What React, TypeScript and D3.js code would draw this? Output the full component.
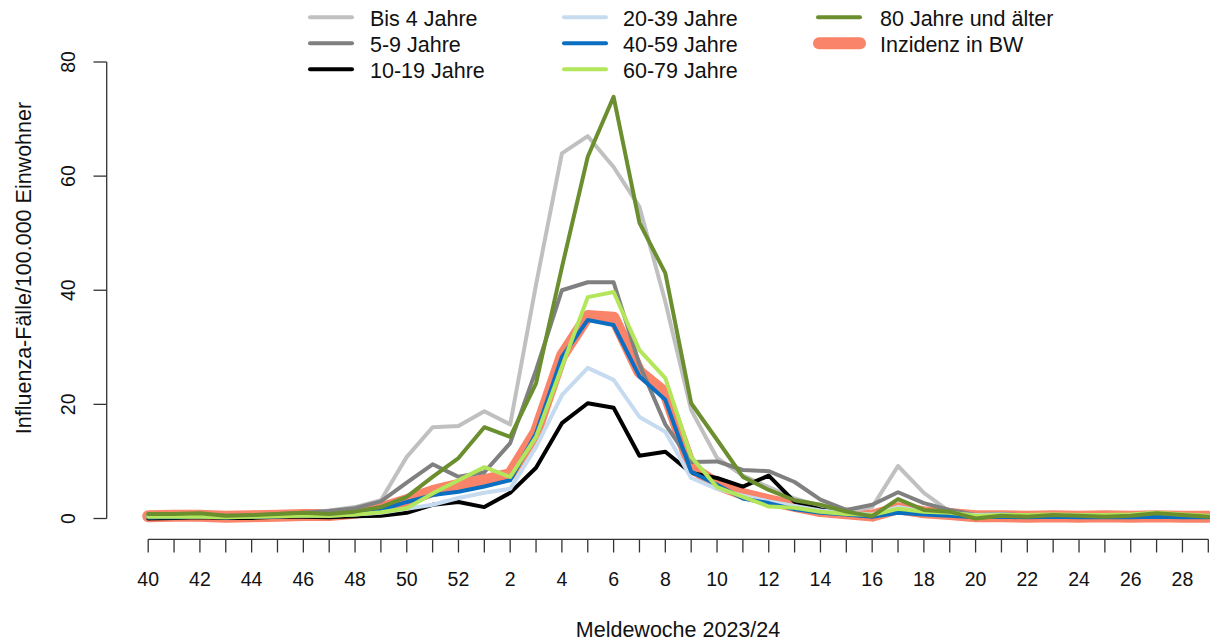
import React from "react";
import * as d3 from "d3";

const weeks: number[] = [40, 41, 42, 43, 44, 45, 46, 47, 48, 49, 50, 51, 52, 1, 2, 3, 4, 5, 6, 7, 8, 9, 10, 11, 12, 13, 14, 15, 16, 17, 18, 19, 20, 21, 22, 23, 24, 25, 26, 27, 28, 29];

const bis4: number[] = [0.5, 0.6, 0.6, 0.4, 0.5, 0.7, 0.9, 1.4, 2.0, 3.2, 10.8, 16.0, 16.2, 18.8, 16.5, 41, 64, 67, 61.6, 54.6, 38, 19, 10.6, 7.5, 5.5, 3.5, 2.2, 1.2, 2.0, 9.2, 4.5, 1.2, 0.5, 0.5, 0.4, 0.5, 0.3, 0.5, 0.4, 0.5, 0.4, 0.3];
const j5bis9: number[] = [0.5, 0.6, 0.6, 0.5, 0.5, 0.8, 1.0, 1.3, 1.8, 3.0, 6.3, 9.5, 7.3, 8.1, 13.2, 26, 40, 41.4, 41.4, 27, 16.5, 9.9, 10.0, 8.5, 8.3, 6.4, 3.3, 1.5, 2.4, 4.6, 2.7, 1.5, 0.6, 0.8, 0.5, 0.6, 0.5, 0.4, 0.6, 0.5, 0.6, 0.4];
const j10bis19: number[] = [0.0, 0.1, 0.2, 0.1, 0.1, 0.3, 0.3, 0.2, 0.4, 0.5, 1.0, 2.4, 2.9, 2.0, 4.5, 8.9, 16.7, 20.2, 19.4, 11.0, 11.7, 8.0, 7.1, 5.6, 7.5, 2.9, 1.6, 0.8, 0.4, 1.5, 1.0, 0.7, 0.3, 0.4, 0.3, 0.5, 0.4, 0.5, 0.3, 0.4, 0.3, 0.3];
const j20bis39: number[] = [0.2, 0.3, 0.3, 0.2, 0.3, 0.4, 0.5, 0.5, 0.7, 1.0, 1.7, 2.4, 3.6, 4.5, 5.2, 12.5, 21.6, 26.4, 24.3, 17.8, 15.2, 7.1, 5.2, 4.0, 3.0, 2.2, 1.4, 1.0, 0.7, 2.0, 1.2, 0.8, 0.6, 0.7, 0.5, 0.6, 0.5, 0.5, 0.6, 0.5, 0.5, 0.4];
const j40bis59: number[] = [0.2, 0.2, 0.3, 0.2, 0.3, 0.4, 0.5, 0.6, 0.9, 1.5, 2.9, 4.1, 4.7, 5.6, 6.7, 14.9, 28.3, 34.8, 33.9, 24.9, 20.8, 8.2, 5.9, 3.5, 2.7, 1.6, 1.0, 0.7, 0.3, 1.0, 0.7, 0.5, 0.2, 0.3, 0.2, 0.3, 0.2, 0.2, 0.2, 0.3, 0.2, 0.2];
const j60bis79: number[] = [0.3, 0.3, 0.3, 0.2, 0.3, 0.4, 0.5, 0.5, 0.7, 1.1, 1.8, 4.4, 6.7, 9.0, 7.3, 14.3, 26.6, 38.8, 39.7, 29.5, 24.6, 10.8, 5.5, 3.8, 2.1, 1.9, 1.2, 0.8, 0.6, 1.7, 1.2, 1.0, 0.5, 0.6, 0.6, 0.7, 0.6, 0.6, 0.7, 1.0, 0.7, 0.5];
const j80plus: number[] = [0.8, 0.8, 0.9, 0.5, 0.6, 0.8, 1.0, 0.8, 1.2, 2.0, 3.8, 7.3, 10.6, 16.0, 14.3, 23.7, 44, 63.4, 73.9, 51.8, 43.0, 20.2, 13.8, 7.3, 5.0, 3.2, 2.4, 1.2, 0.4, 3.4, 1.5, 1.2, 0.0, 0.5, 0.3, 0.6, 0.5, 0.3, 0.5, 0.9, 0.6, 0.3];
const inzidenzBW: number[] = [0.4, 0.5, 0.5, 0.3, 0.4, 0.5, 0.6, 0.6, 1.0, 1.8, 3.2, 4.8, 5.9, 6.7, 7.8, 15.2, 28.5, 35.5, 35.2, 25.7, 22.0, 9.0, 6.0, 4.3, 3.2, 2.2, 1.3, 0.9, 0.5, 1.8, 1.1, 0.8, 0.4, 0.4, 0.3, 0.4, 0.3, 0.4, 0.3, 0.4, 0.3, 0.3];

const seriesNames: string[] = ["Bis 4 Jahre", "5-9 Jahre", "10-19 Jahre", "20-39 Jahre", "40-59 Jahre", "60-79 Jahre", "80 Jahre und älter"];
const seriesColors: string[] = ["#c0c0c0", "#808080", "#000000", "#c6dbef", "#0a6fc2", "#b3e65a", "#6b8e2f"];
const seriesValues: number[][] = [bis4, j5bis9, j10bis19, j20bis39, j40bis59, j60bis79, j80plus];
const bwName = "Inzidenz in BW";
const bwColor = "#fa8469";

const yTicks: number[] = [0, 20, 40, 60, 80];
const xTitle = "Meldewoche 2023/24";
const yTitle = "Influenza-Fälle/100.000 Einwohner";

const FONT = "'Liberation Sans', Arial, sans-serif";

export default function App() {
  const x = d3.scaleLinear().domain([0, weeks.length - 1]).range([148.2, 1208.3]);
  const y = d3.scaleLinear().domain([0, 80]).range([518.5, 62]);
  const line = d3
    .line<number>()
    .x((_, i) => x(i))
    .y((d) => y(d));

  const legendCols = [
    { lx: 310, tx: 370 },
    { lx: 564, tx: 623 },
    { lx: 818, tx: 880 },
  ];
  const rowY = [17.3, 43.3, 69.3];

  const legendItems = [
    ...seriesNames.map((n, i) => ({ name: n, color: seriesColors[i], bw: false })),
    { name: bwName, color: bwColor, bw: true },
  ];

  return (
    <svg
      width={1210}
      height={642}
      style={{ position: "absolute", left: 0, top: 0, background: "#fff" }}
      fontFamily={FONT}
    >
      <path
        d={line(inzidenzBW) || ""}
        fill="none"
        stroke={bwColor}
        strokeWidth={12}
        strokeLinejoin="round"
        strokeLinecap="round"
      />
      {seriesValues.map((vals, i) => (
        <path
          key={i}
          d={line(vals) || ""}
          fill="none"
          stroke={seriesColors[i]}
          strokeWidth={4}
          strokeLinejoin="round"
          strokeLinecap="round"
        />
      ))}

      <line x1={106.7} x2={106.7} y1={y(0)} y2={y(80)} stroke="#333" strokeWidth={1.3} />
      {yTicks.map((t) => (
        <g key={t}>
          <line x1={93.5} x2={106.7} y1={y(t)} y2={y(t)} stroke="#333" strokeWidth={1.3} />
          <text
            transform={`translate(75,${y(t)}) rotate(-90)`}
            textAnchor="middle"
            fontSize={19.5}
            fill="#111"
          >
            {t}
          </text>
        </g>
      ))}
      <text
        transform={`translate(31,268) rotate(-90)`}
        textAnchor="middle"
        fontSize={21.5}
        fill="#111"
      >
        {yTitle}
      </text>

      <line x1={x(0)} x2={x(weeks.length - 1)} y1={539.3} y2={539.3} stroke="#333" strokeWidth={1.3} />
      {weeks.map((w, i) => (
        <g key={i}>
          <line x1={x(i)} x2={x(i)} y1={539.3} y2={552.5} stroke="#333" strokeWidth={1.3} />
          {i % 2 === 0 && (
            <text x={x(i)} y={586} textAnchor="middle" fontSize={19.5} fill="#111">
              {w}
            </text>
          )}
        </g>
      ))}
      <text x={678} y={636.5} textAnchor="middle" fontSize={21.5} fill="#111">
        {xTitle}
      </text>

      {legendItems.map((it, k) => {
        const col = legendCols[Math.floor(k / 3)];
        const ry = rowY[k % 3];
        return (
          <g key={k}>
            {it.bw ? (
              <line x1={col.lx + 1} x2={col.lx + 42} y1={ry} y2={ry} stroke={it.color} strokeWidth={12} strokeLinecap="round" />
            ) : (
              <line x1={col.lx} x2={col.lx + 42} y1={ry} y2={ry} stroke={it.color} strokeWidth={4} strokeLinecap="round" />
            )}
            <text x={col.tx} y={ry + 8.8} fontSize={21.5} fill="#111">
              {it.name}
            </text>
          </g>
        );
      })}
    </svg>
  );
}
